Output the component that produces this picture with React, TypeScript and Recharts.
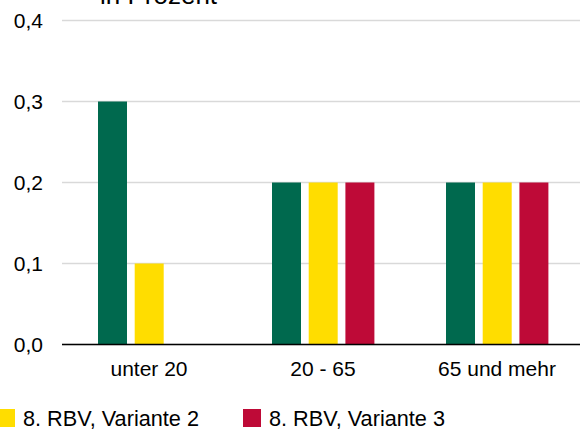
import { Bar, BarChart, CartesianGrid, XAxis, YAxis } from "recharts";

const categories = ["unter 20", "20 - 65", "65 und mehr"];
const variante1 = [0.3, 0.2, 0.2];
const variante2 = [0.1, 0.2, 0.2];
const variante3 = [0, 0.2, 0.2];
const yTicks = [0, 0.1, 0.2, 0.3, 0.4];

const series = [
  { key: "v1", name: "8. RBV, Variante 1", color: "#00694E", values: variante1 },
  { key: "v2", name: "8. RBV, Variante 2", color: "#FFDD00", values: variante2 },
  { key: "v3", name: "8. RBV, Variante 3", color: "#BE0A37", values: variante3 },
];

const FONT = '"Liberation Sans", Arial, sans-serif';

const data = categories.map((c, i) => {
  const row: Record<string, string | number> = { name: c };
  series.forEach((s) => {
    row[s.key] = s.values[i];
  });
  return row;
});

const fmt = (v: number) => v.toFixed(1).replace(".", ",");

export default function App() {
  return (
    <div
      style={{
        position: "absolute",
        left: 0,
        top: 0,
        width: 580,
        height: 432,
        overflow: "hidden",
        background: "#fff",
        fontFamily: FONT,
      }}
    >
      <div
        style={{
          position: "absolute",
          left: 100,
          top: -18,
          fontSize: 26,
          lineHeight: "26px",
          color: "#000",
          whiteSpace: "nowrap",
        }}
      >
        in Prozent
      </div>

      <BarChart
        width={584}
        height={432}
        data={data}
        margin={{ top: 20.5, right: 0, bottom: 47.5, left: 0 }}
        barSize={29}
        barGap={7.7}
      >
        <CartesianGrid vertical={false} stroke="#D9D9D9" strokeWidth={1.5} />
        <XAxis
          dataKey="name"
          height={40}
          tickLine={false}
          tickSize={0}
          tickMargin={17}
          axisLine={{ stroke: "#000", strokeWidth: 1.5 }}
          tick={{ fontSize: 21, fill: "#000", fontFamily: FONT }}
          interval={0}
        />
        <YAxis
          width={62}
          domain={[0, 0.4]}
          ticks={yTicks}
          tickFormatter={fmt}
          tickLine={false}
          axisLine={false}
          tickSize={0}
          tickMargin={19}
          tick={{ fontSize: 21, fill: "#000", fontFamily: FONT }}
        />
        {series.map((s) => (
          <Bar key={s.key} dataKey={s.key} name={s.name} fill={s.color} isAnimationActive={false} />
        ))}
      </BarChart>

      <div
        style={{
          position: "absolute",
          left: -249,
          top: 409,
          display: "flex",
          whiteSpace: "nowrap",
        }}
      >
        {series.map((s) => (
          <div key={s.key} style={{ display: "flex", alignItems: "flex-start", width: 246 }}>
            <span style={{ width: 18, height: 18, background: s.color, display: "inline-block", flex: "none" }} />
            <span
              style={{
                marginLeft: 8,
                fontSize: 21.7,
                lineHeight: "18px",
                color: "#000",
                position: "relative",
                top: 1,
              }}
            >
              {s.name}
            </span>
          </div>
        ))}
      </div>
    </div>
  );
}
